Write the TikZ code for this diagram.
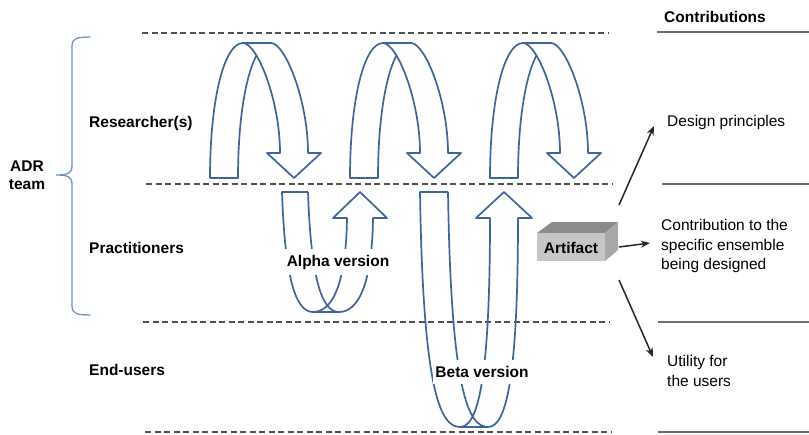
\documentclass[tikz,border=0pt]{standalone}
\usepackage{fontspec}
\setmainfont{Liberation Sans}
\usetikzlibrary{arrows.meta}
\definecolor{bandblue}{RGB}{62,100,160}
\definecolor{bracecol}{RGB}{110,145,195}
\definecolor{dashgray}{RGB}{80,80,80}
\definecolor{solidgray}{RGB}{110,110,110}
\definecolor{boxfront}{RGB}{198,198,198}
\definecolor{boxtop}{RGB}{138,138,138}
\definecolor{boxside}{RGB}{168,168,168}
\begin{document}
\begin{tikzpicture}[x=1pt,y=-1pt,
  band/.style={draw=bandblue, line width=1.7pt, line join=round},
  dashln/.style={draw=dashgray, line width=1.5pt, dash pattern=on 6pt off 3.5pt},
  solidln/.style={draw=solidgray, line width=1.3pt},
  lbl/.style={font=\fontsize{15.5}{18.5}\selectfont\bfseries, inner sep=0pt},
  txt/.style={font=\fontsize{15.5}{19.5}\selectfont, align=left, inner sep=0pt},
  conn/.style={draw=black!85, line width=1.5pt, -{Stealth[length=9pt,width=7pt,inset=2.5pt]}},
]
\useasboundingbox (0,0) rectangle (809,434);

% dashed swimlane lines
\draw[dashln] (142,33) -- (608,33);
\draw[dashln] (146,184) -- (612,184);
\draw[dashln] (143,322) -- (610,322);
\draw[dashln] (145,432) -- (612,432);

% right solid lines
\draw[solidln] (657,32) -- (809,32);
\draw[solidln] (662,184) -- (809,184);
\draw[solidln] (658,322) -- (809,322);
\draw[solidln] (658,432) -- (809,432);

% top U-turn arrows (researchers)
\foreach \dx in {0,140,280}{
\begin{scope}[xshift=\dx]
  \draw[band, fill=white] (210,178) .. controls (210,100) and (224,43) .. (243,43)
     -- (271,43) .. controls (252,43) and (238,100) .. (238,178) -- cycle;
  \draw[band, fill=white] (243,43) -- (271,43) .. controls (285,43) and (308,100) .. (308,153)
     -- (321,153) -- (294,178) -- (267,153) -- (280,153)
     .. controls (280,100) and (257,43) .. (243,43) -- cycle;
\end{scope}
}

% Alpha version U arrow
\draw[band] (308,192) -- (282,192) .. controls (285,280) and (296,312) .. (313,312)
   .. controls (330,312) and (346,290) .. (347,218)
   -- (333,218) -- (360,192) -- (387,218) -- (373,218)
   .. controls (372,290) and (356,312) .. (339,312)
   .. controls (322,312) and (311,280) .. (308,192);
\draw[band] (313,312) -- (339,312);

% Beta version U arrow
\draw[band] (448,192) -- (420,192) .. controls (423,390) and (440,427) .. (460,427)
   .. controls (478,427) and (490,380) .. (490,218)
   -- (476,218) -- (504,192) -- (532,218) -- (518,218)
   .. controls (518,380) and (506,427) .. (488,427)
   .. controls (468,427) and (451,390) .. (448,192);
\draw[band] (460,427) -- (488,427);

\node[lbl, fill=white, inner xsep=2pt, inner ysep=6pt] (alpha) at (338,262) {Alpha version};
\node[lbl, fill=white, inner xsep=2pt, inner ysep=6pt] (beta) at (482,372) {Beta version};

% brace
\draw[bracecol, line width=1.3pt, line cap=round]
  (90,37) .. controls (78,37) and (72,38) .. (72,46) -- (72,166)
  .. controls (72,173) and (68,175) .. (56,175)
  .. controls (68,175) and (72,177) .. (72,184) -- (72,306)
  .. controls (72,314) and (78,315) .. (90,315);

% left labels
\node[lbl, align=center] (adr) at (27,175) {ADR\\team};
\node[lbl, anchor=west] (res) at (89,123) {Researcher(s)};
\node[lbl, anchor=west] (prac) at (89,248) {Practitioners};
\node[lbl, anchor=west] (endu) at (89,370) {End-users};

% artifact box
\fill[boxtop] (537,233) -- (552,222) -- (618,222) -- (605,233) -- cycle;
\fill[boxside] (605,233) -- (618,222) -- (618,250) -- (605,261) -- cycle;
\fill[boxfront] (537,233) rectangle (605,261);
\node[lbl] (art) at (571,248) {Artifact};

% contributions
\node[lbl] (contr) at (715,17) {Contributions};
\node[txt, anchor=west] (dp) at (667,122) {Design principles};
\node[txt, anchor=west] (ens) at (661,246) {Contribution to the\\specific ensemble\\being designed};
\node[txt, anchor=west] (util) at (667,371) {Utility for\\the users};

\coordinate (a1s) at (619,205);
\coordinate (a1e) at (654,126);
\coordinate (a2s) at (619,247);
\coordinate (a2e) at (650,243);
\coordinate (a3s) at (619,280);
\coordinate (a3e) at (653,357);
\draw[conn] (a1s) -- (a1e);
\draw[conn] (a2s) -- (a2e);
\draw[conn] (a3s) -- (a3e);
\end{tikzpicture}
\end{document}
